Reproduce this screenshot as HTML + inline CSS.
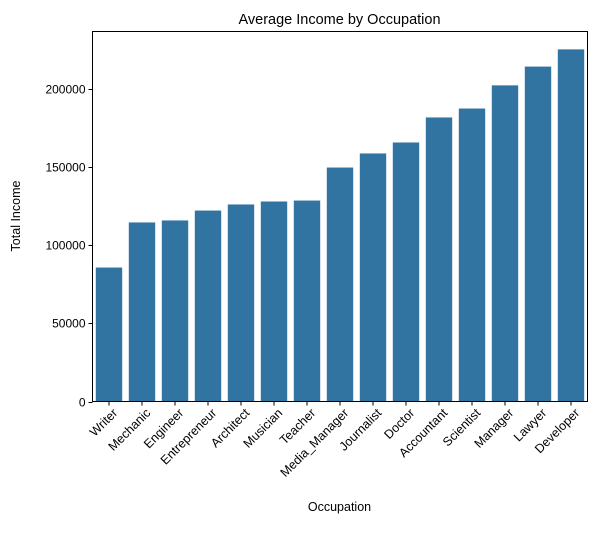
<!DOCTYPE html>
<html><head><meta charset="utf-8"><style>
body{margin:0;background:#fff;}
svg{font-family:"Liberation Sans","DejaVu Sans",sans-serif;}
</style></head><body>
<svg id="chart" width="611" height="528" viewBox="0 0 611 528" xmlns="http://www.w3.org/2000/svg">
<rect width="611" height="528" fill="#fff"/>
<text x="339.5" y="24" text-anchor="middle" font-size="14.5">Average Income by Occupation</text>
<g id="bars"></g>
<g id="yaxis"></g>
<g id="xaxis"></g>
<rect x="92.5" y="31.5" width="495" height="370" fill="none" stroke="#000" stroke-width="1"/>
<text transform="translate(20,216) rotate(-90)" text-anchor="middle" font-size="12.5">Total Income</text>
<text x="339.5" y="511" text-anchor="middle" font-size="12.5">Occupation</text>
</svg>
<script>
const categories=["Writer","Mechanic","Engineer","Entrepreneur","Architect","Musician","Teacher","Media_Manager","Journalist","Doctor","Accountant","Scientist","Manager","Lawyer","Developer"];
const values=[85600,114400,115700,122000,125900,127800,128400,149500,158500,165500,181500,187200,202000,214000,225000];
const yTicks=[0,50000,100000,150000,200000];
const NS="http://www.w3.org/2000/svg";
const L=92.5,R=587.5,B=401.5,pxPer=313/200000;
const y=v=>B-v*pxPer;
const step=(R-L)/categories.length;
const xc=i=>L+step*(i+0.5);
function mk(t,a,p){const e=document.createElementNS(NS,t);for(const k in a)e.setAttribute(k,a[k]);p.appendChild(e);return e;}
const gb=document.getElementById('bars'),gy=document.getElementById('yaxis'),gx=document.getElementById('xaxis');
values.forEach((v,i)=>{
 const r=mk('rect',{x:xc(i)-step*0.4,y:y(v),width:step*0.8,height:B-y(v),fill:'#3274a1'},gb);
 
 
});
yTicks.forEach(t=>{
 const yy=Math.round(y(t))+0.5;
 const l=mk('line',{x1:L-4,x2:L,y1:yy,y2:yy,stroke:'#000'},gy);
 
 
 const tx=mk('text',{x:L-7,y:yy+4,'text-anchor':'end','font-size':'12'},gy);
 tx.textContent=t;
 
 
});
categories.forEach((c,i)=>{
 const x=xc(i);
 const l=mk('line',{x1:x,x2:x,y1:B,y2:B+4,stroke:'#000'},gx);
 
 
 const tx=mk('text',{transform:`translate(${x+3},${B+6}) rotate(-45)`,'text-anchor':'end','font-size':'12.5','dominant-baseline':'hanging'},gx);
 tx.textContent=c;
 
 
});
</script>
</body></html>
